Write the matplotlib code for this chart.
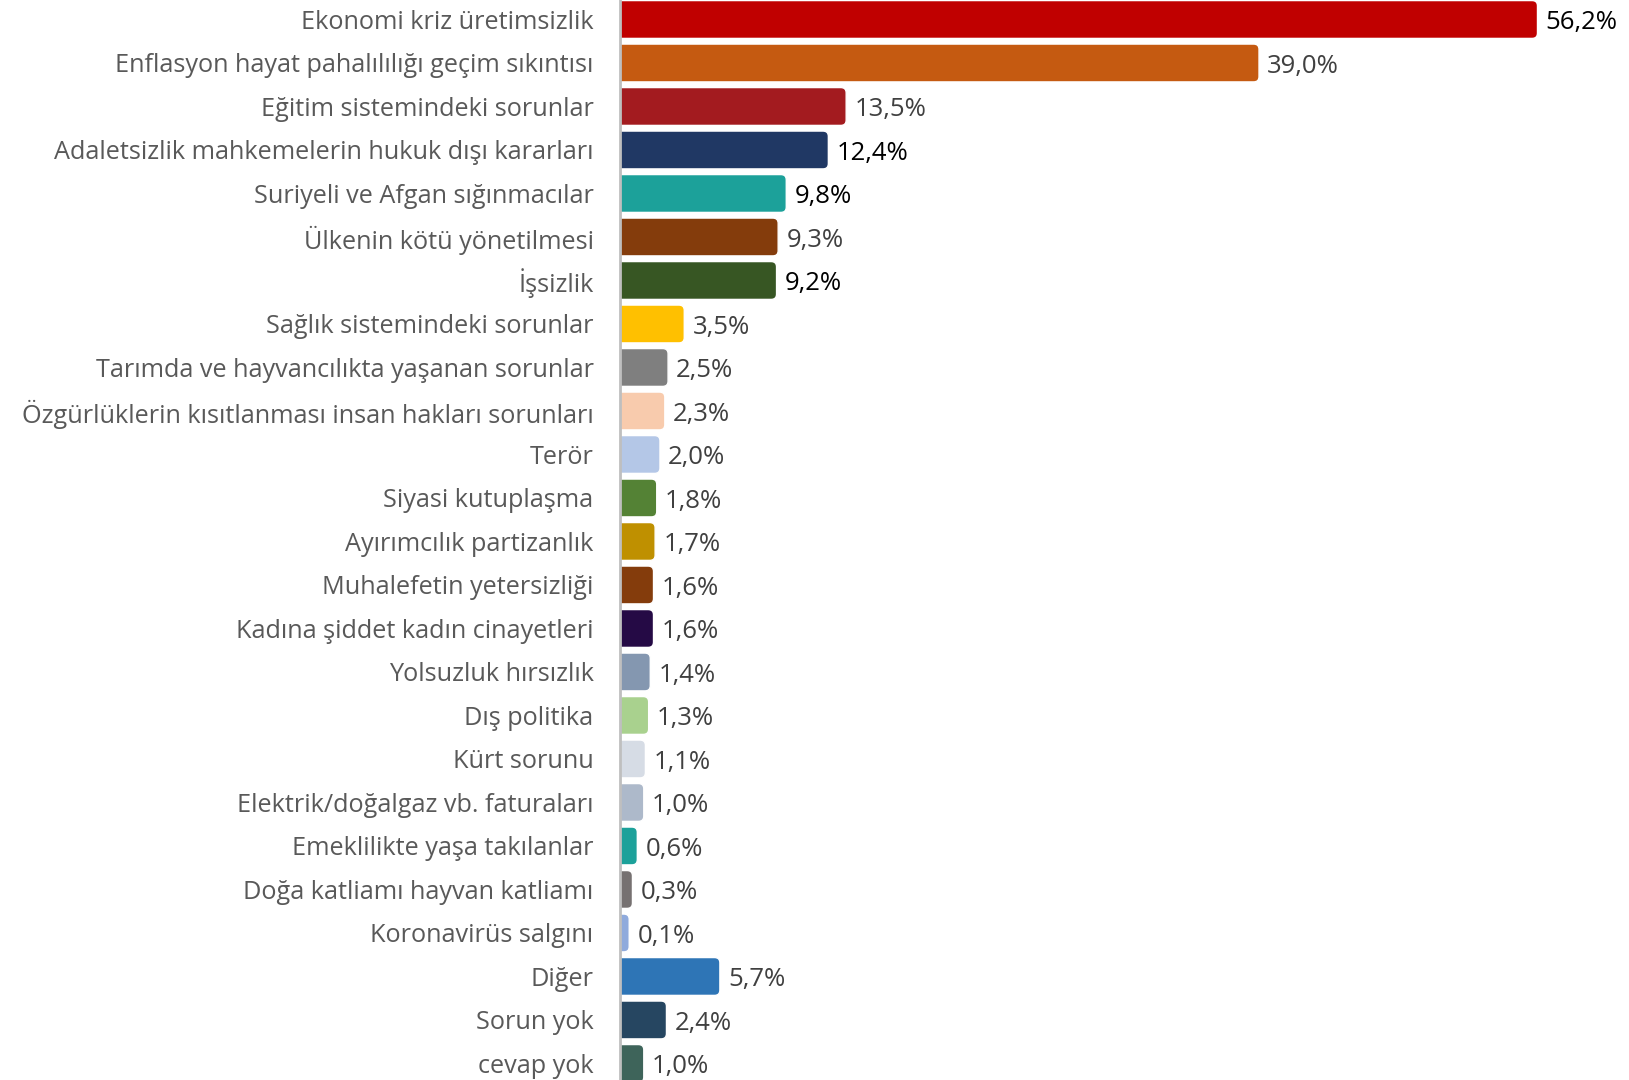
import matplotlib.pyplot as plt
from matplotlib.patches import FancyBboxPatch

plt.rcParams['font.family'] = ['Open Sans', 'DejaVu Sans']

labels = ["Ekonomi kriz üretimsizlik", "Enflasyon hayat pahalılılığı geçim sıkıntısı",
          "Eğitim sistemindeki sorunlar", "Adaletsizlik mahkemelerin hukuk dışı kararları",
          "Suriyeli ve Afgan sığınmacılar", "Ülkenin kötü yönetilmesi", "İşsizlik",
          "Sağlık sistemindeki sorunlar", "Tarımda ve hayvancılıkta yaşanan sorunlar",
          "Özgürlüklerin kısıtlanması insan hakları sorunları", "Terör", "Siyasi kutuplaşma",
          "Ayırımcılık partizanlık", "Muhalefetin yetersizliği", "Kadına şiddet kadın cinayetleri",
          "Yolsuzluk hırsızlık", "Dış politika", "Kürt sorunu", "Elektrik/doğalgaz vb. faturaları",
          "Emeklilikte yaşa takılanlar", "Doğa katliamı hayvan katliamı", "Koronavirüs salgını",
          "Diğer", "Sorun yok", "cevap yok"]
values = [56.2, 39.0, 13.5, 12.4, 9.8, 9.3, 9.2, 3.5, 2.5, 2.3, 2.0, 1.8, 1.7, 1.6, 1.6,
          1.4, 1.3, 1.1, 1.0, 0.6, 0.3, 0.1, 5.7, 2.4, 1.0]
colors = ["#C00000", "#C55A11", "#A31B1F", "#203864", "#1CA19A", "#843C0C", "#375623",
          "#FFC000", "#7F7F7F", "#F8CBAD", "#B4C7E7", "#548235", "#BF9000", "#843C0C",
          "#250A45", "#8497B0", "#A9D18E", "#D6DCE5", "#ADB9CA", "#1CA19A", "#767171",
          "#8FAADC", "#2E75B6", "#264661", "#3E645A"]
dark_labels = [0, 3, 4, 6]

W, H = 1629, 1080
fig = plt.figure(figsize=(W / 100, H / 100), dpi=100)
x0 = 620 / W
ax = fig.add_axes([x0, 0, 1 - x0, 1])

# small offset so tiny bars still show a sliver, like the original
xmin = -0.47
xmax = xmin + (W - 620) / 16.19
ax.set_xlim(xmin, xmax)
ax.set_ylim(24.38, -0.448)

bh = 0.87
rx = 0.33
ry = 0.12
for i, (v, c) in enumerate(zip(values, colors)):
    box = FancyBboxPatch((-2, i - bh / 2), v + 2, bh,
                         boxstyle="round,pad=0,rounding_size=%f" % rx,
                         mutation_aspect=ry / rx, facecolor=c, edgecolor='white',
                         linewidth=1)
    ax.add_patch(box)
    col = 'black' if i in dark_labels else '#404040'
    ax.text(v + 0.5, i + 0.08, ("%.1f%%" % v).replace('.', ','), va='center',
            ha='left', fontsize=18.5, color=col)

ax.set_yticks(range(len(labels)))
ax.set_yticklabels(labels, fontsize=18.2, color='#595959')
ax.tick_params(axis='y', length=0, pad=19)
ax.set_xticks([])
for s in ['top', 'right', 'bottom']:
    ax.spines[s].set_visible(False)
ax.spines['left'].set_color('#BFBFBF')
ax.spines['left'].set_linewidth(2)

fig.savefig('out.png', dpi=100)
